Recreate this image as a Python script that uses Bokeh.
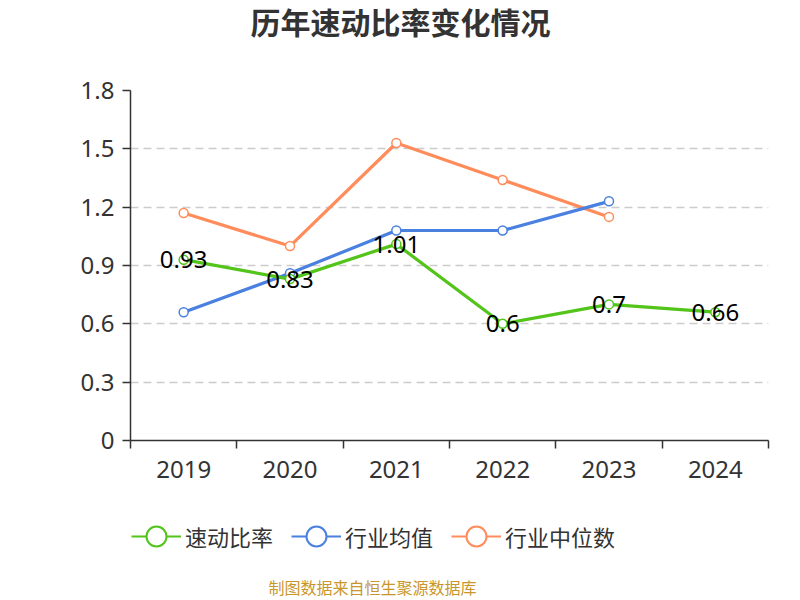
from bokeh.plotting import figure
from bokeh.layouts import column
from bokeh.models import Range1d, FixedTicker, Legend, LegendItem, Label, ColumnDataSource
from bokeh.embed import file_html
from bokeh.resources import INLINE
from bokeh.core.properties import value

years = ["2019", "2020", "2021", "2022", "2023", "2024"]
quick_ratio = [0.93, 0.83, 1.01, 0.6, 0.7, 0.66]
industry_mean = [0.66, 0.86, 1.08, 1.08, 1.23]
industry_median = [1.17, 1.00, 1.53, 1.34, 1.15]
y_ticks = [0, 0.3, 0.6, 0.9, 1.2, 1.5, 1.8]

series_names = ["速动比率", "行业均值", "行业中位数"]
colors = ["#52c41a", "#4a80e0", "#ff8c5a"]
title_text = "历年速动比率变化情况"
source_text = "制图数据来自恒生聚源数据库"

FONT = "Noto Sans CJK SC"
NUM_FONT = "Noto Sans"

xc = [i + 0.5 for i in range(len(years))]
series = [quick_ratio, industry_mean, industry_median]


def blank_figure(h):
    f = figure(width=800, height=h, output_backend="svg", toolbar_location=None,
               x_range=Range1d(0, 1), y_range=Range1d(0, 1),
               x_axis_location=None, y_axis_location=None, min_border=0)
    f.outline_line_color = None
    f.xgrid.visible = False
    f.ygrid.visible = False
    return f


# header with title
h = blank_figure(50)
h.add_layout(Label(x=270, y=30, x_units="screen", y_units="screen", text=title_text,
                   text_font=FONT, text_font_size="30px", text_font_style="bold",
                   text_color="#333333", text_align="center", text_baseline="middle"))

p = figure(width=800, height=450, output_backend="svg", toolbar_location=None,
           x_range=Range1d(0, len(years)), y_range=Range1d(0, 1.8),
           min_border_left=130, min_border_right=32, min_border_top=40, min_border_bottom=60)
p.outline_line_color = None
p.background_fill_color = "white"
p.border_fill_color = "white"

# axes
xa = p.xaxis[0]
xa.ticker = FixedTicker(ticks=xc, minor_ticks=list(range(len(years) + 1)))
xa.major_label_overrides = {x: y for x, y in zip(xc, years)}
xa.major_tick_out = 0
xa.major_tick_in = 0
xa.minor_tick_out = 8
xa.minor_tick_in = 0
xa.minor_tick_line_color = "#333333"
xa.minor_tick_line_width = 1.5
xa.axis_line_color = "#333333"
xa.axis_line_width = 1.5
xa.major_label_text_font = NUM_FONT
xa.major_label_text_font_size = "24px"
xa.major_label_text_color = "#333333"
xa.major_label_standoff = 12

ya = p.yaxis[0]
ya.ticker = FixedTicker(ticks=y_ticks)
ya.major_label_overrides = {t: f"{t:g}" for t in y_ticks}
ya.major_tick_out = 8
ya.major_tick_in = 0
ya.minor_tick_out = 0
ya.minor_tick_in = 0
ya.major_tick_line_color = "#333333"
ya.major_tick_line_width = 1.5
ya.axis_line_color = "#333333"
ya.axis_line_width = 1.5
ya.major_label_text_font = NUM_FONT
ya.major_label_text_font_size = "24px"
ya.major_label_text_color = "#333333"
ya.major_label_standoff = 8

p.xgrid.visible = False
p.ygrid.ticker = FixedTicker(ticks=[t for t in y_ticks if t > 0])
p.ygrid.grid_line_color = "#cccccc"
p.ygrid.grid_line_width = 1.5
p.ygrid.grid_line_dash = "8 5"

for idx in [2, 1, 0]:
    vals = series[idx]
    src = ColumnDataSource(dict(x=xc[:len(vals)], y=vals))
    p.line("x", "y", source=src, line_color=colors[idx], line_width=3.2)
    p.scatter("x", "y", source=src, size=9, marker="circle", fill_color="white",
              line_color=colors[idx], line_width=1.5)

# data labels for quick ratio
lab_src = ColumnDataSource(dict(x=xc, y=quick_ratio, t=[f"{v:g}" for v in quick_ratio]))
p.text("x", "y", text="t", source=lab_src, text_align="center", text_baseline="middle",
       text_font=value(NUM_FONT), text_font_size="24px", text_color="#000000")

# legend + source note figure
q = blank_figure(100)

items = []
for idx in [0, 1, 2]:
    vals = series[idx]
    src = ColumnDataSource(dict(x=xc[:len(vals)], y=vals))
    lr = q.line("x", "y", source=src, line_color=colors[idx], line_width=2, visible=False)
    sr = q.scatter("x", "y", source=src, marker="circle", fill_color="white",
                   line_color=colors[idx], line_width=2, visible=False)
    items.append(LegendItem(label=series_names[idx], renderers=[lr, sr]))

legend = Legend(items=items, orientation="horizontal", location=(1, 39),
                border_line_color=None, background_fill_alpha=0,
                glyph_width=50, glyph_height=50, label_standoff=4, spacing=18,
                padding=0, margin=0,
                label_text_font=FONT, label_text_font_size="22px", label_text_color="#333333")
q.add_layout(legend, "center")

q.add_layout(Label(x=242, y=14, x_units="screen", y_units="screen", text=source_text,
                   text_font=FONT, text_font_size="16px", text_color="#c9962b",
                   text_align="center", text_baseline="middle"))

open("out.html", "w").write(file_html(column(h, p, q, spacing=0), INLINE))
